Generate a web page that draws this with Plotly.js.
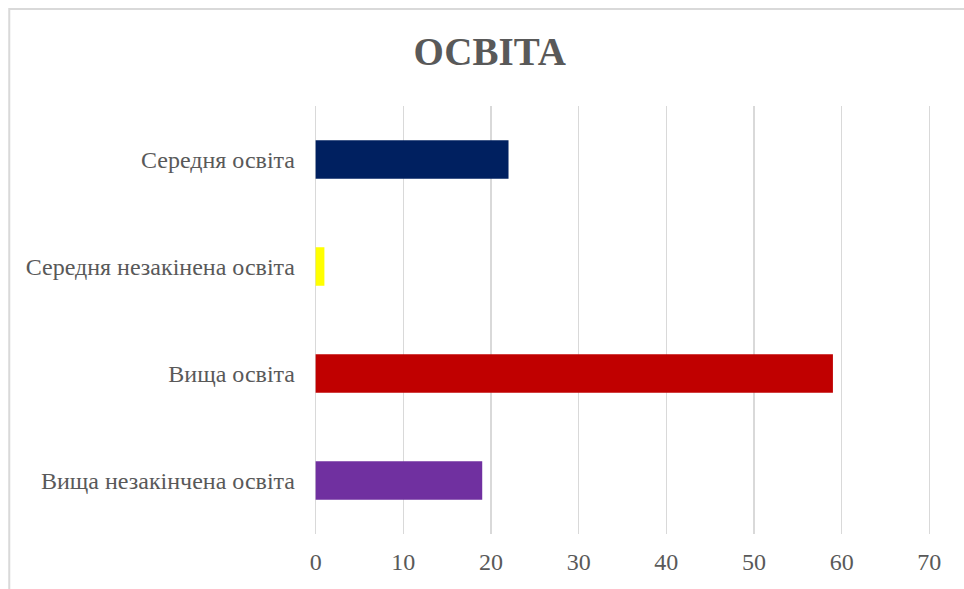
<!DOCTYPE html>
<html>
<head>
<meta charset="utf-8">
<script src="https://cdn.plot.ly/plotly-3.0.1.min.js"></script>
<style>
html,body{margin:0;padding:0;background:#fff;}
#chart{width:964px;height:589px;}
</style>
</head>
<body>
<div id="chart"></div>
<script>
const categories = ['Вища незакінчена освіта', 'Вища освіта', 'Середня незакінена освіта', 'Середня освіта'];
const values = [19, 59, 1, 22];
const barColors = ['#7030A0', '#C00000', '#FFFF00', '#002060'];
const xTicks = [0, 10, 20, 30, 40, 50, 60, 70];
const titleText = 'ОСВІТА';

const FONT = 'Liberation Serif';
const PAD = 0.3;
const pxPerUnit = 613 / 70;

const trace = {
  type: 'bar',
  orientation: 'h',
  y: categories,
  x: values,
  marker: {color: barColors},
  hoverinfo: 'x+y'
};

const layout = {
  width: 964,
  height: 589,
  margin: {l: 316 - PAD * pxPerUnit, r: 35 - PAD * pxPerUnit, t: 106, b: 55},
  paper_bgcolor: '#ffffff',
  plot_bgcolor: '#ffffff',
  bargap: 0.64,
  showlegend: false,
  font: {family: FONT},
  title: {
    text: '<b>' + titleText + '</b>',
    font: {family: FONT, size: 39, color: '#595959'},
    xref: 'container', x: 0.508, xanchor: 'center',
    yref: 'container', y: 1 - 51/589, yanchor: 'middle'
  },
  xaxis: {
    range: [-PAD, 70 + PAD],
    tickvals: xTicks,
    ticktext: xTicks.map(String),
    showgrid: true,
    gridcolor: '#d9d9d9',
    gridwidth: 1.5,
    zeroline: false,
    showline: false,
    ticks: '',
    ticklabelstandoff: 11,
    tickfont: {family: FONT, size: 24, color: '#595959'},
    fixedrange: true
  },
  yaxis: {
    type: 'category',
    categoryorder: 'array',
    categoryarray: categories,
    showgrid: false,
    zeroline: false,
    showline: false,
    ticks: '',
    ticklabelstandoff: 17,
    tickfont: {family: FONT, size: 24, color: '#595959'},
    fixedrange: true
  },
  shapes: [{
    type: 'rect',
    xref: 'paper', yref: 'paper',
    x0: -2, x1: 2,
    y0: -2, y1: 1,
    line: {color: '#d9d9d9', width: 2},
    fillcolor: 'rgba(0,0,0,0)',
    layer: 'below'
  }]
};
// frame: left edge at pixel 10, top edge at pixel 9, right/bottom beyond the view
const plotW = 964 - layout.margin.l - layout.margin.r;
const plotH = 589 - layout.margin.t - layout.margin.b;
layout.shapes[0].x0 = (10 - layout.margin.l) / plotW;
layout.shapes[0].x1 = (975 - layout.margin.l) / plotW;
layout.shapes[0].y1 = (589 - layout.margin.b - 9) / plotH;
layout.shapes[0].y0 = (589 - layout.margin.b - 600) / plotH;

Plotly.newPlot('chart', [trace], layout, {displayModeBar: false, staticPlot: true});
</script>
</body>
</html>
